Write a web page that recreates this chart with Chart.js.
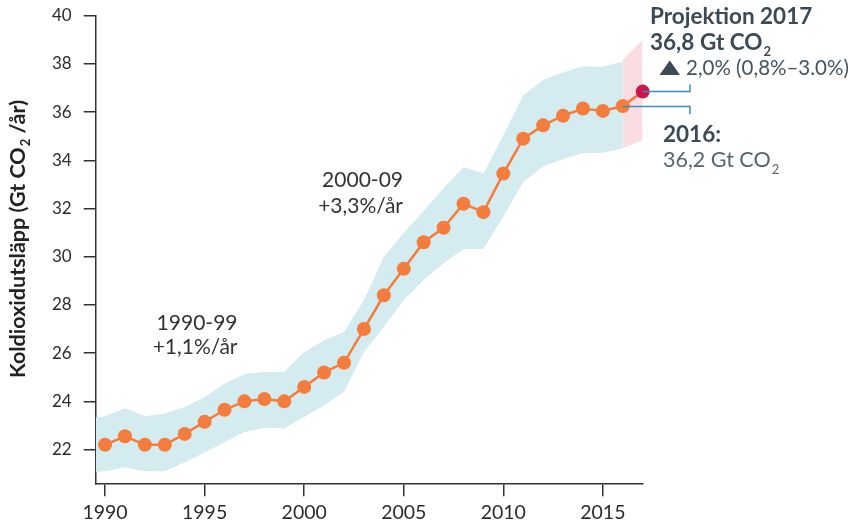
<!DOCTYPE html>
<html>
<head>
<meta charset="utf-8">
<script src="https://cdn.jsdelivr.net/npm/chart.js@4"></script>
<style>
  html, body { margin: 0; padding: 0; background: #ffffff; }
  #wrap { width: 852px; height: 530px; position: relative; }
</style>
</head>
<body>
<div id="wrap"><canvas id="c" width="852" height="530"></canvas></div>
<script>
// ---- data ----
const years = [1990,1991,1992,1993,1994,1995,1996,1997,1998,1999,2000,2001,2002,2003,2004,2005,2006,2007,2008,2009,2010,2011,2012,2013,2014,2015,2016,2017];
const emissions = [22.2,22.55,22.2,22.2,22.65,23.15,23.65,24.0,24.1,24.0,24.6,25.2,25.6,27.0,28.4,29.5,30.6,31.2,32.2,31.85,33.45,34.9,35.45,35.85,36.15,36.05,36.25,36.85];
const bandYears = [1989.53,1990,1991,1992,1993,1994,1995,1996,1997,1998,1999,2000,2001,2002,2003,2004,2005,2006,2007,2008,2009,2010,2011,2012,2013,2014,2015,2016];
const bandUpper = [23.33,23.38,23.71,23.38,23.5,23.77,24.18,24.74,25.13,25.22,25.22,26.05,26.54,26.88,28.2,30.0,31.0,31.9,32.85,33.72,33.45,35.04,36.7,37.33,37.64,37.9,37.88,38.1];
const bandLower = [21.08,21.1,21.27,21.1,21.1,21.47,21.88,22.3,22.73,22.9,22.88,23.35,23.84,24.4,26.05,27.1,28.2,29.03,29.73,30.32,30.32,31.66,33.1,33.74,34.05,34.29,34.31,34.5];
const projYears = [2016, 2017];
const projUpper = [38.17, 39.0];
const projLower = [34.5, 34.83];
const yTicks = [22,24,26,28,30,32,34,36,38,40];
const xTicks = [1990,1995,2000,2005,2010,2015];

const toXY = (xs, ys) => xs.map((x, i) => ({x: x, y: ys[i]}));

const FONT = 'Lato, "Open Sans", sans-serif';
const ORANGE = '#f47c3c';
const RED = '#c8174a';
const TEAL = '#d4ecef';
const PINK = '#fadde3';
const SLATE = '#3c4a56';
const LINK = '#3d8db5';

const pointColors = years.map((y, i) => i === years.length - 1 ? RED : ORANGE);

const annotations = {
  id: 'annotations',
  afterDatasetsDraw(chart) {
    const ctx = chart.ctx;
    const xs = chart.scales.x, ys = chart.scales.y;
    const n = years.length;
    const p17 = {x: xs.getPixelForValue(years[n-1]), y: ys.getPixelForValue(emissions[n-1])};
    const p16 = {x: xs.getPixelForValue(years[n-2]), y: ys.getPixelForValue(emissions[n-2])};
    ctx.save();
    ctx.strokeStyle = LINK;
    ctx.lineWidth = 1.5;
    ctx.beginPath();
    ctx.moveTo(p17.x, p17.y); ctx.lineTo(690, p17.y); ctx.lineTo(690, p17.y - 7);
    ctx.moveTo(p16.x, p16.y + 0.5); ctx.lineTo(690, p16.y + 0.5); ctx.lineTo(690, p16.y + 8);
    ctx.stroke();
    ctx.restore();
  },
  afterDraw(chart) {
    const ctx = chart.ctx;
    ctx.save();
    ctx.textBaseline = 'alphabetic';
    // Projection block
    ctx.fillStyle = SLATE;
    ctx.textAlign = 'left';
    ctx.font = 'bold 22.5px ' + FONT;
    ctx.fillText('Projektion 2017', 650, 24);
    ctx.fillText('36,8 Gt CO', 650, 49.5);
    let w = ctx.measureText('36,8 Gt CO').width;
    ctx.font = 'bold 13px ' + FONT;
    ctx.fillText('2', 650 + w + 1, 56);
    // triangle
    ctx.beginPath();
    ctx.moveTo(659.5, 75); ctx.lineTo(680, 75); ctx.lineTo(669.75, 60.5); ctx.closePath();
    ctx.fill();
    ctx.fillStyle = '#46545f';
    ctx.font = '20.5px ' + FONT;
    ctx.fillText('2,0% (0,8%\u20133.0%)', 686, 75);
    // 2016 block
    ctx.fillStyle = SLATE;
    ctx.font = 'bold 22.5px ' + FONT;
    ctx.fillText('2016:', 663, 141.5);
    ctx.fillStyle = '#56646f';
    ctx.font = '21.5px ' + FONT;
    ctx.fillText('36,2 Gt CO', 663, 166.5);
    w = ctx.measureText('36,2 Gt CO').width;
    ctx.font = '13px ' + FONT;
    ctx.fillText('2', 663 + w + 1, 174);
    // period labels
    ctx.fillStyle = '#333333';
    ctx.textAlign = 'right';
    ctx.font = '21px ' + FONT;
    ctx.fillText('2000-09', 403, 186.5);
    ctx.fillText('+3,3%/\u00e5r', 403, 212.5);
    ctx.fillText('1990-99', 237.5, 329.5);
    ctx.fillText('+1,1%/\u00e5r', 237.5, 353.5);
    // y axis title with subscript
    ctx.translate(24.5, 239);
    ctx.rotate(-Math.PI / 2);
    ctx.fillStyle = '#222222';
    const t1 = 'Koldioxidutsl\u00e4pp (Gt CO', t3 = ' /\u00e5r)';
    const big = 'bold 21.5px ' + FONT, small = 'bold 13px ' + FONT;
    ctx.font = big;
    const w1 = ctx.measureText(t1).width, w3 = ctx.measureText(t3).width;
    ctx.font = small;
    const w2 = ctx.measureText('2').width;
    const total = w1 + w2 + w3 + 1;
    let x0 = -total / 2;
    ctx.textAlign = 'left';
    ctx.font = big;
    ctx.fillText(t1, x0, 0);
    ctx.font = small;
    ctx.fillText('2', x0 + w1 + 1, 5);
    ctx.font = big;
    ctx.fillText(t3, x0 + w1 + w2 + 1, 0);
    ctx.restore();
  }
};

new Chart(document.getElementById('c'), {
  type: 'line',
  data: {
    datasets: [
      {
        label: 'upper', data: toXY(bandYears, bandUpper), fill: '+1',
        backgroundColor: TEAL, borderColor: 'rgba(0,0,0,0)', borderWidth: 0,
        pointRadius: 0, tension: 0, order: 3
      },
      {
        label: 'lower', data: toXY(bandYears, bandLower), fill: false,
        borderColor: 'rgba(0,0,0,0)', borderWidth: 0, pointRadius: 0, tension: 0, order: 3
      },
      {
        label: 'projUpper', data: toXY(projYears, projUpper), fill: '+1',
        backgroundColor: PINK, borderColor: 'rgba(0,0,0,0)', borderWidth: 0,
        pointRadius: 0, tension: 0, order: 2
      },
      {
        label: 'projLower', data: toXY(projYears, projLower), fill: false,
        borderColor: 'rgba(0,0,0,0)', borderWidth: 0, pointRadius: 0, tension: 0, order: 2
      },
      {
        label: 'emissions', data: toXY(years, emissions), fill: false,
        borderColor: ORANGE, borderWidth: 2.5, tension: 0, clip: false,
        pointRadius: 7, pointBackgroundColor: pointColors, pointBorderWidth: 0,
        pointHoverRadius: 7, order: 0
      }
    ]
  },
  options: {
    responsive: false,
    animation: false,
    events: [],
    layout: { padding: { left: 0, top: 15.7, right: 209.3, bottom: 0 } },
    plugins: { legend: { display: false }, tooltip: { enabled: false } },
    scales: {
      x: {
        type: 'linear', min: 1989.53, max: 2017.0,
        afterFit(s) { s.height = 46.7; s.paddingLeft = 0; s.paddingRight = 0; },
        afterBuildTicks(s) { s.ticks = xTicks.map(v => ({value: v})); },
        ticks: { includeBounds: false, padding: 5, color: '#2b2b2b', font: { family: FONT, size: 19.5 }, maxRotation: 0, autoSkip: false,
                 callback: (v) => String(v) },
        grid: { display: true, drawOnChartArea: false, drawTicks: true, tickLength: 13, color: '#333333', lineWidth: 1.5 },
        border: { display: true, color: '#333333', width: 1.5 }
      },
      y: {
        type: 'linear', min: 20.6, max: 40,
        afterFit(s) { s.width = 95.7; s.paddingTop = 0; s.paddingBottom = 0; },
        afterBuildTicks(s) { s.ticks = yTicks.map(v => ({value: v})); },
        ticks: { includeBounds: false, padding: 12, color: '#2b2b2b', font: { family: FONT, size: 17 },
                 callback: (v) => String(v) },
        grid: { display: true, drawOnChartArea: false, drawTicks: true, tickLength: 12, color: '#333333', lineWidth: 1.5 },
        border: { display: true, color: '#333333', width: 1.5 }
      }
    }
  },
  plugins: [annotations]
});
</script>
</body>
</html>
